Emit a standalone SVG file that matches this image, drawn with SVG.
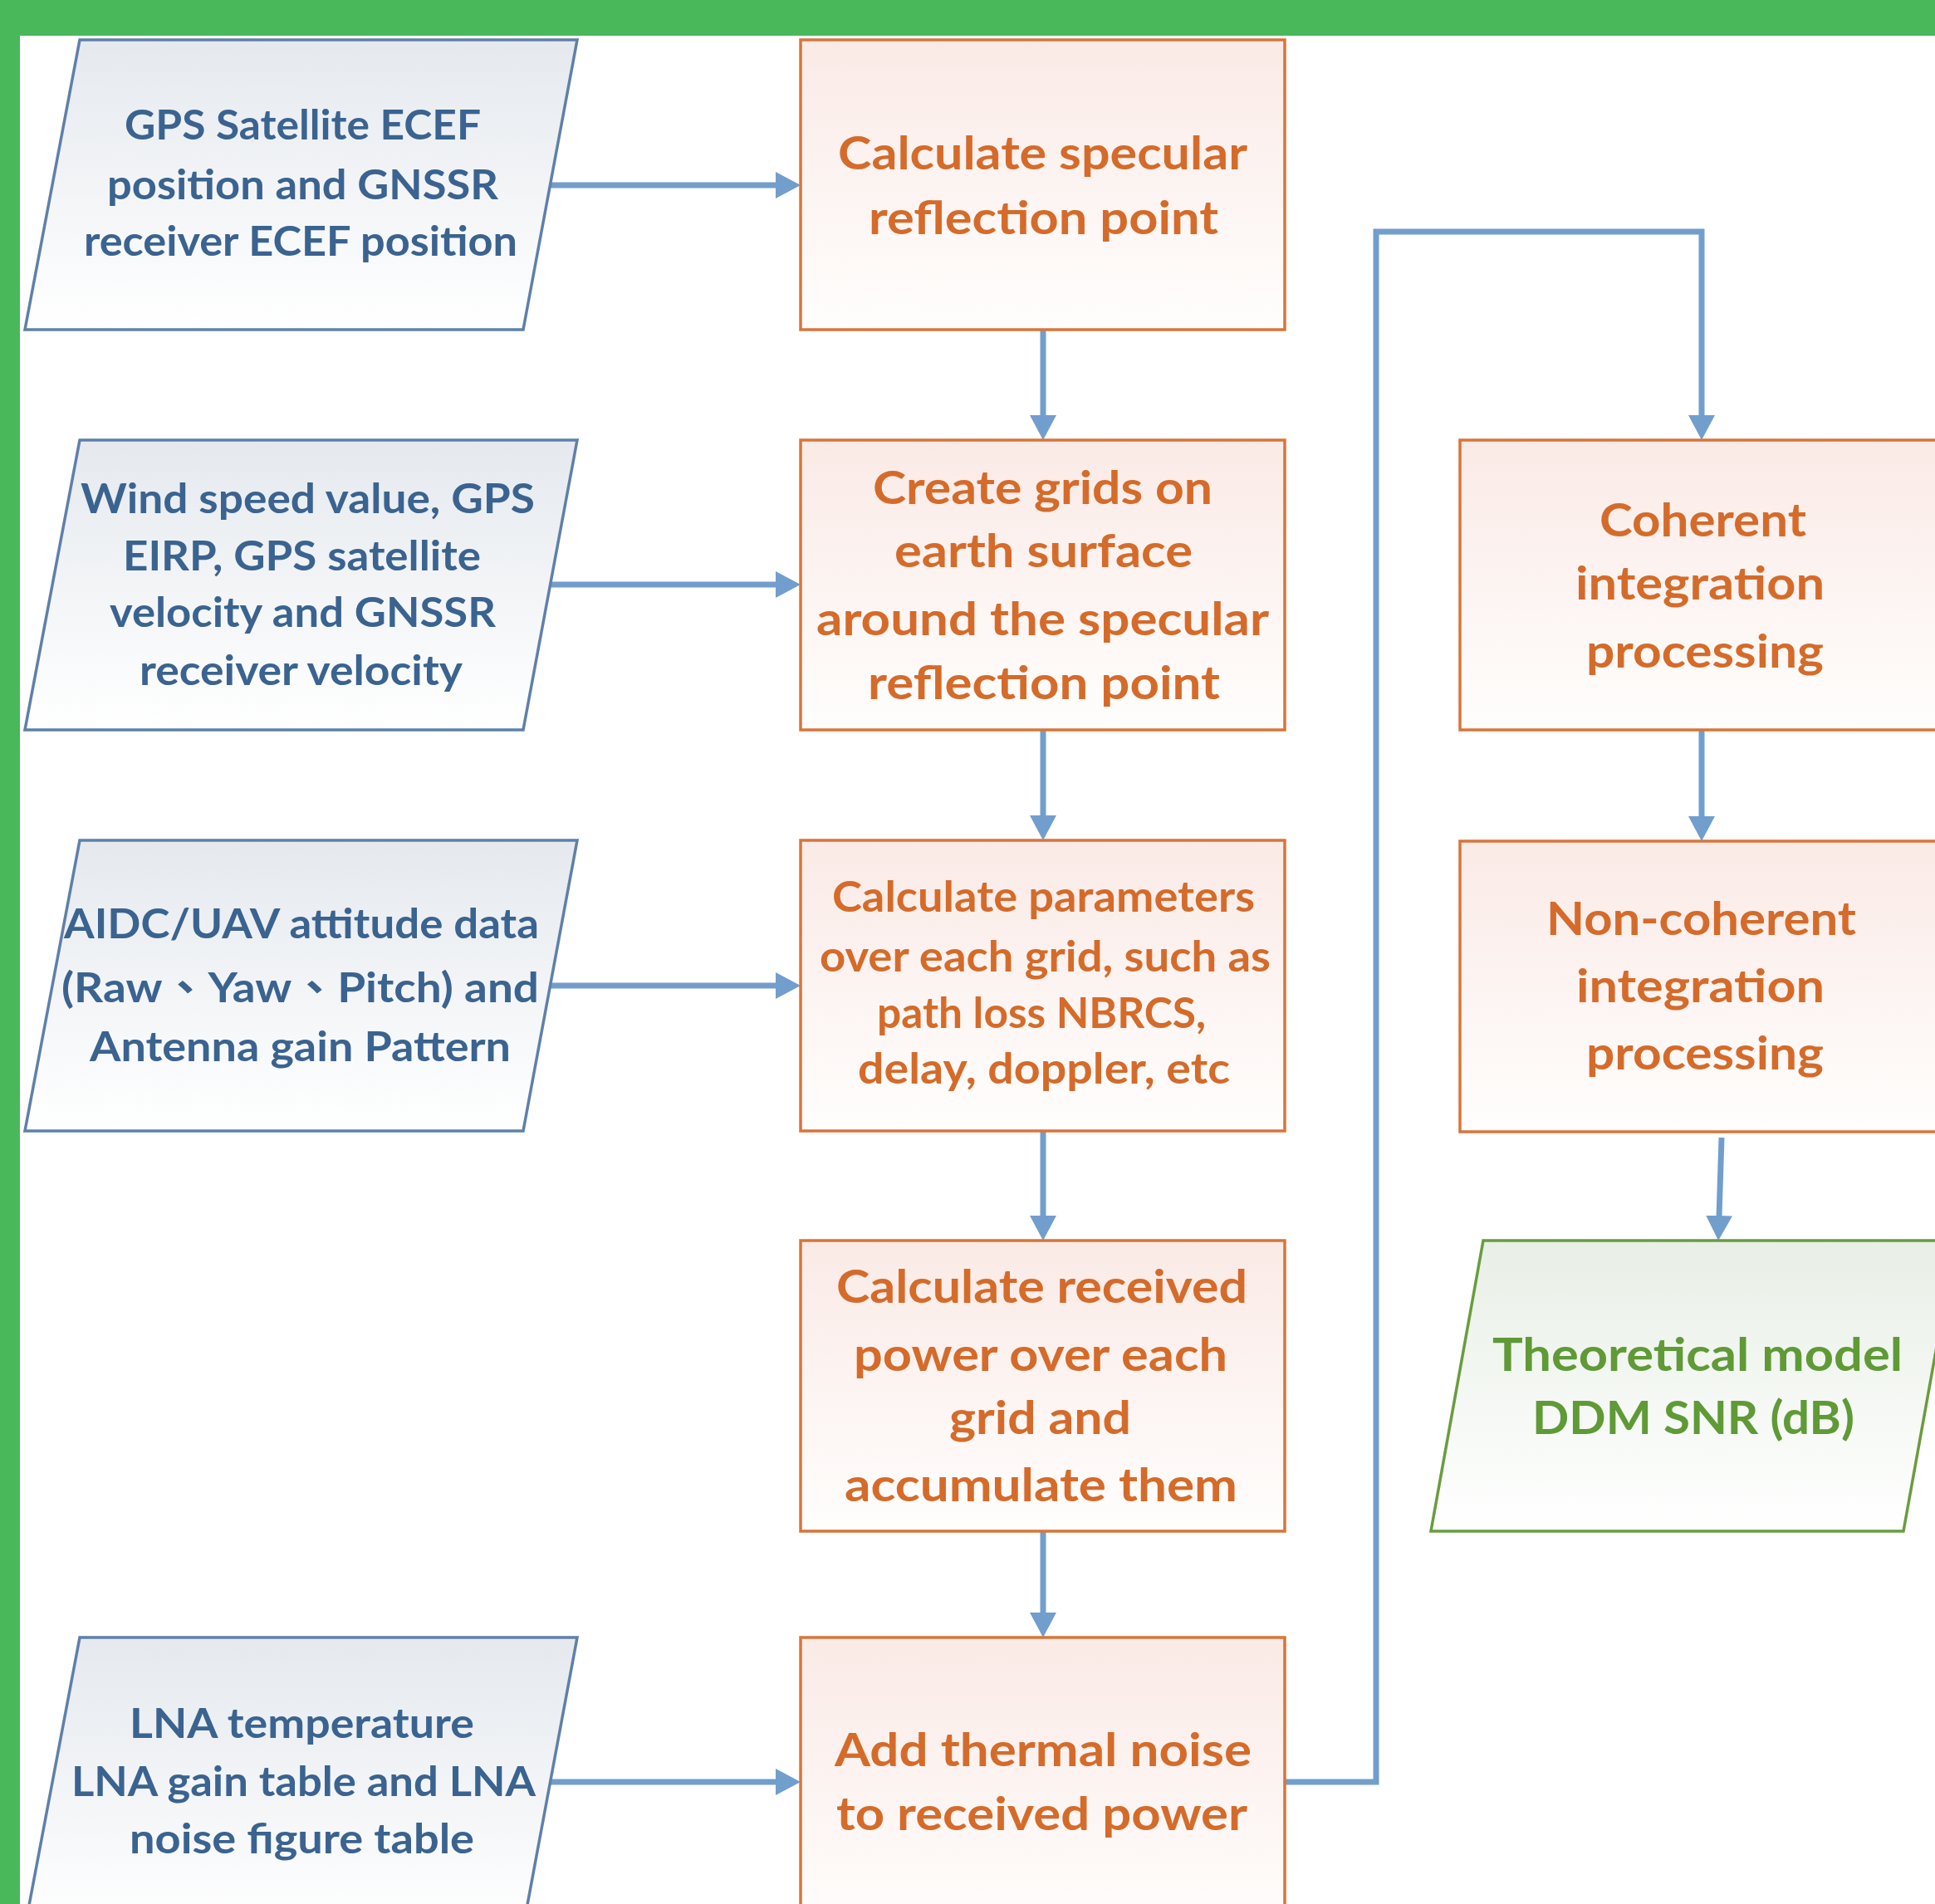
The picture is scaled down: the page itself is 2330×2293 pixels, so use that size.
<svg xmlns="http://www.w3.org/2000/svg" width="2330" height="2293" viewBox="0 0 2330 2293">
<style>
.t{font-family:Lato,"Liberation Sans","Noto Sans CJK TC",sans-serif;font-weight:bold;text-anchor:middle}
.tb{fill:#3A6390;font-size:50px}
.to{fill:#D56B2A;font-size:56px}
.tg{fill:#5F9A36;font-size:56px}
.pin{fill:url(#gb);stroke:#5F80A8;stroke-width:3.5}
.box{fill:url(#go);stroke:#D8753A;stroke-width:3.5}
.pout{fill:url(#gg);stroke:#6A9C3F;stroke-width:3.5}
.c{fill:none;stroke:#729ECE;stroke-width:7;marker-end:url(#ah)}
</style>
<defs>
<linearGradient id="gb" x1="0" y1="0" x2="0" y2="1"><stop offset="0" stop-color="#E5E9EE"/><stop offset="1" stop-color="#FFFFFF"/></linearGradient>
<linearGradient id="go" x1="0" y1="0" x2="0" y2="1"><stop offset="0" stop-color="#FAEAE6"/><stop offset="1" stop-color="#FFFEFD"/></linearGradient>
<linearGradient id="gg" x1="0" y1="0" x2="0" y2="1"><stop offset="0" stop-color="#E8EFE6"/><stop offset="1" stop-color="#FFFFFF"/></linearGradient>
<marker id="ah" markerUnits="userSpaceOnUse" markerWidth="32" markerHeight="32" refX="2" refY="16" orient="auto" viewBox="0 0 32 32">
<path d="M0,0 L30,16 L0,32 Z" fill="#729ECE"/>
</marker>
</defs>
<rect x="0" y="0" width="2330" height="2293" fill="#FFFFFF"/>
<rect x="0" y="0" width="2330" height="43" fill="#48B85B"/>
<rect x="0" y="0" width="24" height="2293" fill="#48B85B"/>

<g id="connectors">
<path class="c" d="M662,223 H936"/>
<path class="c" d="M662,704 H936"/>
<path class="c" d="M662,1187 H936"/>
<path class="c" d="M662,2146 H936"/>
<path class="c" d="M1256,397 V502"/>
<path class="c" d="M1256,879 V984"/>
<path class="c" d="M1256,1363 V1466"/>
<path class="c" d="M1256,1844 V1944"/>
<path class="c" d="M1547,2146 H1657 V279 H2049 V502"/>
<path class="c" d="M2049,879 V985"/>
<path class="c" d="M2073,1370 L2070,1466"/>
</g>

<g id="in1">
<polygon class="pin" points="96,48 695,48 630,397 30,397"/>
<text class="t tb" x="364.5" y="168" textLength="429" lengthAdjust="spacingAndGlyphs">GPS Satellite ECEF</text>
<text class="t tb" x="364.5" y="240" textLength="471" lengthAdjust="spacingAndGlyphs">position and GNSSR</text>
<text class="t tb" x="362" y="308" textLength="522" lengthAdjust="spacingAndGlyphs">receiver ECEF position</text>
</g>

<g id="in2">
<polygon class="pin" points="96,530 695,530 630,879 30,879"/>
<text class="t tb" x="370.5" y="618" textLength="547" lengthAdjust="spacingAndGlyphs">Wind speed value, GPS</text>
<text class="t tb" x="363.5" y="687" textLength="431" lengthAdjust="spacingAndGlyphs">EIRP, GPS satellite</text>
<text class="t tb" x="364.5" y="755" textLength="465" lengthAdjust="spacingAndGlyphs">velocity and GNSSR</text>
<text class="t tb" x="362.5" y="825" textLength="389" lengthAdjust="spacingAndGlyphs">receiver velocity</text>
</g>

<g id="in3">
<polygon class="pin" points="96,1012 695,1012 630,1362 30,1362"/>
<text class="t tb" x="363" y="1130" textLength="572" lengthAdjust="spacingAndGlyphs">AIDC/UAV attitude data</text>
<text class="t tb" x="361.5" y="1207" textLength="575" lengthAdjust="spacingAndGlyphs">(Raw、Yaw、Pitch) and</text>
<text class="t tb" x="361.5" y="1278" textLength="507" lengthAdjust="spacingAndGlyphs">Antenna gain Pattern</text>
</g>

<g id="in4">
<polygon class="pin" points="96,1972 695,1972 630,2321 30,2321"/>
<text class="t tb" x="363.5" y="2093" textLength="415" lengthAdjust="spacingAndGlyphs">LNA temperature</text>
<text class="t tb" x="365.5" y="2163" textLength="559" lengthAdjust="spacingAndGlyphs">LNA gain table and LNA</text>
<text class="t tb" x="363.5" y="2232" textLength="415" lengthAdjust="spacingAndGlyphs">noise figure table</text>
</g>

<g id="step1">
<rect class="box" x="964" y="48" width="583" height="349"/>
<text class="t to" x="1255.5" y="204" textLength="493" lengthAdjust="spacingAndGlyphs">Calculate specular</text>
<text class="t to" x="1256.5" y="282" textLength="421" lengthAdjust="spacingAndGlyphs">reflection point</text>
</g>

<g id="step2">
<rect class="box" x="964" y="530" width="583" height="349"/>
<text class="t to" x="1255.5" y="607" textLength="409" lengthAdjust="spacingAndGlyphs">Create grids on</text>
<text class="t to" x="1256.5" y="683" textLength="359" lengthAdjust="spacingAndGlyphs">earth surface</text>
<text class="t to" x="1255.5" y="765" textLength="545" lengthAdjust="spacingAndGlyphs">around the specular</text>
<text class="t to" x="1257" y="842" textLength="424" lengthAdjust="spacingAndGlyphs">reflection point</text>
</g>

<g id="step3">
<rect class="box" x="964" y="1012" width="583" height="350"/>
<text class="t to" x="1256.5" y="1098" textLength="509" lengthAdjust="spacingAndGlyphs" style="font-size:52px">Calculate parameters</text>
<text class="t to" x="1258.5" y="1170" textLength="543" lengthAdjust="spacingAndGlyphs" style="font-size:52px">over each grid, such as</text>
<text class="t to" x="1254" y="1238" textLength="396" lengthAdjust="spacingAndGlyphs" style="font-size:52px">path loss NBRCS,</text>
<text class="t to" x="1257" y="1305" textLength="448" lengthAdjust="spacingAndGlyphs" style="font-size:52px">delay, doppler, etc</text>
</g>

<g id="step4">
<rect class="box" x="964" y="1494" width="583" height="350"/>
<text class="t to" x="1254.5" y="1569" textLength="495" lengthAdjust="spacingAndGlyphs">Calculate received</text>
<text class="t to" x="1253" y="1651" textLength="450" lengthAdjust="spacingAndGlyphs">power over each</text>
<text class="t to" x="1252.5" y="1727" textLength="219" lengthAdjust="spacingAndGlyphs">grid and</text>
<text class="t to" x="1253.5" y="1808" textLength="473" lengthAdjust="spacingAndGlyphs">accumulate them</text>
</g>

<g id="step5">
<rect class="box" x="964" y="1972" width="583" height="360"/>
<text class="t to" x="1256" y="2127" textLength="502" lengthAdjust="spacingAndGlyphs">Add thermal noise</text>
<text class="t to" x="1254.5" y="2204" textLength="495" lengthAdjust="spacingAndGlyphs">to received power</text>
</g>

<g id="coherent">
<rect class="box" x="1758" y="530" width="583" height="349"/>
<text class="t to" x="2050.5" y="646" textLength="249" lengthAdjust="spacingAndGlyphs">Coherent</text>
<text class="t to" x="2047" y="722" textLength="300" lengthAdjust="spacingAndGlyphs">integration</text>
<text class="t to" x="2053" y="804" textLength="286" lengthAdjust="spacingAndGlyphs">processing</text>
</g>

<g id="noncoherent">
<rect class="box" x="1758" y="1013" width="583" height="350"/>
<text class="t to" x="2048.5" y="1126" textLength="373" lengthAdjust="spacingAndGlyphs">Non-coherent</text>
<text class="t to" x="2047.5" y="1207" textLength="299" lengthAdjust="spacingAndGlyphs">integration</text>
<text class="t to" x="2053" y="1288" textLength="286" lengthAdjust="spacingAndGlyphs">processing</text>
</g>

<g id="output">
<polygon class="pout" points="1786,1494 2355,1494 2292,1844 1723,1844"/>
<text class="t tg" x="2044" y="1651" textLength="494" lengthAdjust="spacingAndGlyphs">Theoretical model</text>
<text class="t tg" x="2039" y="1727" textLength="388" lengthAdjust="spacingAndGlyphs">DDM SNR (dB)</text>
</g>
</svg>
